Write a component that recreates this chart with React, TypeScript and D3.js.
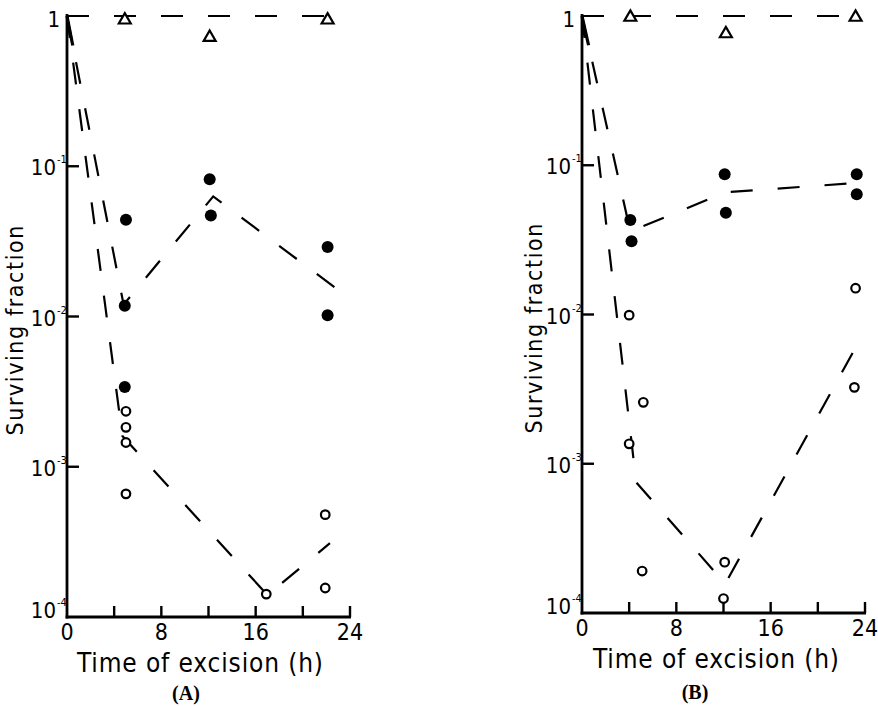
import * as d3 from 'd3'

type Pt = [number, number]

// axis ticks
const HOUR_LABELS = [0, 8, 16, 24]
const HOUR_TICKS = [4, 8, 12, 16, 20, 24]
const DECADES = [1, 1e-1, 1e-2, 1e-3, 1e-4]
const DECADE_EXP = ['', '-1', '-2', '-3', '-4']

// Panel A — open triangles, filled circles, open circles (hours, surviving fraction)
const A_TRI: Pt[] = [[4.9, 0.94], [12.1, 0.72], [22.1, 0.94]]
const A_TRI_LINE: Pt[] = [[0, 1], [22.1, 1]]
const A_FILLED: Pt[] = [[5.0, 0.044], [4.9, 0.0118], [4.9, 0.0034], [12.1, 0.082], [12.2, 0.047], [22.1, 0.029], [22.1, 0.0102]]
const A_FILLED_LINE: Pt[] = [[0, 1], [4.8, 0.012], [12.4, 0.063], [23, 0.015]]
const A_OPEN: Pt[] = [[5, 0.00234], [5, 0.00183], [5, 0.00145], [5, 0.00066], [16.9, 1.42e-4], [21.9, 4.8e-4], [21.9, 1.56e-4]]
const A_OPEN_LINE: Pt[] = [[0, 1], [4.7, 0.0016], [17, 1.4e-4], [22.3, 3.1e-4]]

// Panel B
const B_TRI: Pt[] = [[4.1, 0.98], [12.2, 0.76], [23.2, 0.98]]
const B_TRI_LINE: Pt[] = [[0, 1], [23.2, 1]]
const B_FILLED: Pt[] = [[4.1, 0.043], [4.2, 0.031], [12.1, 0.087], [12.2, 0.048], [23.3, 0.087], [23.3, 0.064]]
const B_FILLED_LINE: Pt[] = [[0, 1], [4.1, 0.036], [12.2, 0.066], [23.2, 0.076]]
const B_OPEN: Pt[] = [[4.0, 0.0099], [4.0, 0.00136], [5.2, 0.00258], [5.1, 1.91e-4], [12.1, 2.19e-4], [12.0, 1.25e-4], [23.2, 0.015], [23.1, 0.00325]]
const B_OPEN_LINE: Pt[] = [[0, 1], [4.6, 7.5e-4], [12.15, 1.57e-4], [23.3, 6.2e-3]]

const SANS = "'DejaVu Sans Condensed', 'DejaVu Sans', sans-serif"
const SERIF = "'Liberation Serif', 'DejaVu Serif', serif"
const DASH = '22 25'

type PanelProps = {
  left: number
  right: number
  top: number
  bottom: number
  tri: Pt[]
  triLine: Pt[]
  filled: Pt[]
  filledLine: Pt[]
  open: Pt[]
  openLine: Pt[]
  name: string
  yTitleX: number
  xTitleX: number
  nameX: number
}

function Panel(p: PanelProps) {
  const { left, right, top, bottom, tri, triLine, filled, filledLine, open, openLine, name } = p
  const x = d3.scaleLinear().domain([0, 24]).range([left, right])
  const y = d3.scaleLog().domain([1e-4, 1]).range([bottom, top])
  const line = d3.line<Pt>().x(d => x(d[0])).y(d => y(d[1]))
  const triPath = d3.symbol().type(d3.symbolTriangle).size(62)

  const dashed = (pts: Pt[]) => (
    <path d={line(pts) ?? ''} fill="none" stroke="#000" strokeWidth={2.2} strokeDasharray={DASH} />
  )

  return (
    <g>
      {dashed(triLine)}
      {dashed(filledLine)}
      {dashed(openLine)}
      {/* the two steep curves leave the origin together, drawn thicker there */}
      <path d={line([filledLine[0], filledLine[1]]) ?? ''} fill="none" stroke="#000" strokeWidth={3.2} strokeDasharray="30 2000" />

      {/* axes */}
      <line x1={x(0)} x2={x(0)} y1={top - 2} y2={bottom + 1.5} stroke="#000" strokeWidth={2.8} />
      <line x1={x(0) - 1.4} x2={x(24) + 1} y1={bottom} y2={bottom} stroke="#000" strokeWidth={2.8} />
      {HOUR_TICKS.map(h => (
        <line key={h} x1={x(h)} x2={x(h)} y1={bottom} y2={bottom - 11} stroke="#000" strokeWidth={2.4} />
      ))}
      {DECADES.slice(1, 4).map(d => (
        <line key={d} x1={x(0)} x2={x(0) + 12} y1={y(d)} y2={y(d)} stroke="#000" strokeWidth={2.4} />
      ))}

      {HOUR_LABELS.map(h => (
        <text key={h} x={x(h)} y={bottom + 23} textAnchor="middle" fontFamily={SANS} fontSize={23}>
          {h}
        </text>
      ))}
      {DECADES.map((d, i) => {
        const base = i === 0 ? y(d) + 11 : i === 4 ? y(d) + 1 : y(d) + 9
        if (i === 0) {
          return (
            <text key={d} x={x(0) - 7} y={base} textAnchor="end" fontFamily={SANS} fontSize={22}>1</text>
          )
        }
        return (
          <g key={d}>
            <text x={x(0) - 11} y={base} textAnchor="end" fontFamily={SANS} fontSize={22}>10</text>
            <text x={x(0) - 10} y={base - 12} textAnchor="start" fontFamily={SANS} fontSize={11}>{DECADE_EXP[i]}</text>
          </g>
        )
      })}

      <text
        transform={`translate(${p.yTitleX},${(top + bottom) / 2 + 14}) rotate(-90)`}
        textAnchor="middle"
        fontFamily={SANS}
        fontSize={23}
        textLength={210}
        lengthAdjust="spacing"
      >
        Surviving fraction
      </text>
      <text
        x={p.xTitleX}
        y={bottom + 55}
        textAnchor="middle"
        fontFamily={SANS}
        fontSize={26}
        textLength={246}
        lengthAdjust="spacing"
      >
        Time of excision (h)
      </text>
      <text x={p.nameX} y={p.bottom > 615 ? bottom + 83 : bottom + 86} textAnchor="middle" fontFamily={SERIF} fontWeight="bold" fontSize={20}>
        ({name})
      </text>

      {/* markers */}
      {tri.map((d, i) => (
        <path key={`t${i}`} d={triPath() ?? ''} transform={`translate(${x(d[0])},${y(d[1])})`} fill="#fff" stroke="#000" strokeWidth={2.2} />
      ))}
      {filled.map((d, i) => (
        <circle key={`f${i}`} cx={x(d[0])} cy={y(d[1])} r={6} fill="#000" />
      ))}
      {open.map((d, i) => (
        <circle key={`o${i}`} cx={x(d[0])} cy={y(d[1])} r={4.3} fill="#fff" stroke="#000" strokeWidth={2.2} />
      ))}
    </g>
  )
}

export default function App() {
  return (
    <svg width={878} height={706} style={{ position: 'absolute', left: 0, top: 0, background: '#fff' }}>
      <rect width={878} height={706} fill="#fff" />
      <Panel left={67} right={350} top={16} bottom={617} tri={A_TRI} triLine={A_TRI_LINE} filled={A_FILLED}
        filledLine={A_FILLED_LINE} open={A_OPEN} openLine={A_OPEN_LINE} name="A"
        yTitleX={23} xTitleX={200} nameX={186} />
      <Panel left={582} right={865} top={16} bottom={613} tri={B_TRI} triLine={B_TRI_LINE} filled={B_FILLED}
        filledLine={B_FILLED_LINE} open={B_OPEN} openLine={B_OPEN_LINE} name="B"
        yTitleX={542} xTitleX={716} nameX={695} />
    </svg>
  )
}
